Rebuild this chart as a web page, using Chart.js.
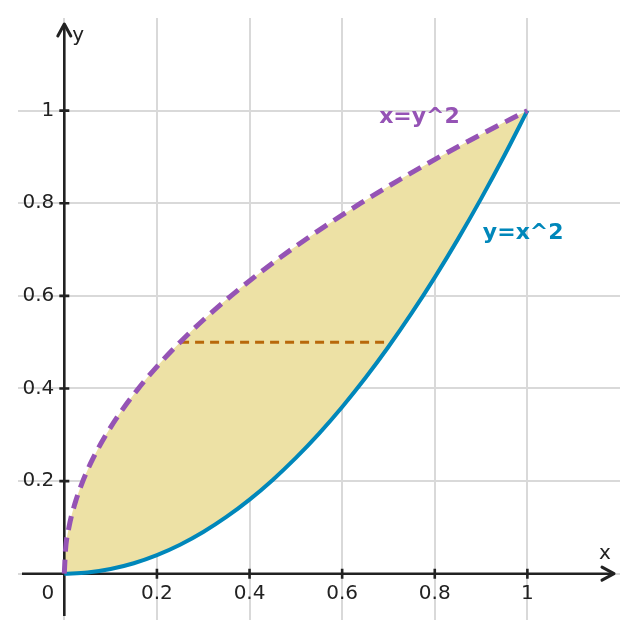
<!DOCTYPE html>
<html><head><meta charset="utf-8">
<script src="https://cdn.jsdelivr.net/npm/chart.js@4.4.1/dist/chart.umd.min.js"></script>
<style>html,body{margin:0;padding:0;background:#fff}#wrap{width:638px;height:638px;position:relative}</style>
</head><body><div id="wrap"><canvas id="c"></canvas></div>
<script>
// y = x^2 (solid blue)
const parabolaX = [0,0.05,0.1,0.15,0.2,0.25,0.3,0.35,0.4,0.45,0.5,0.55,0.6,0.65,0.7,0.75,0.8,0.85,0.9,0.95,1];
const parabolaY = [0,0.0025,0.01,0.0225,0.04,0.0625,0.09,0.1225,0.16,0.2025,0.25,0.3025,0.36,0.4225,0.49,0.5625,0.64,0.7225,0.81,0.9025,1];
// x = y^2 (dashed purple)
const rootCurveX = [0,0.0025,0.01,0.0225,0.04,0.0625,0.09,0.1225,0.16,0.2025,0.25,0.3025,0.36,0.4225,0.49,0.5625,0.64,0.7225,0.81,0.9025,1];
const rootCurveY = [0,0.05,0.1,0.15,0.2,0.25,0.3,0.35,0.4,0.45,0.5,0.55,0.6,0.65,0.7,0.75,0.8,0.85,0.9,0.95,1];
// horizontal slice at y = 0.5
const sliceX = [0.25,0.7071];
const sliceY = [0.5,0.5];
// ticks
const tickValues = [0.2,0.4,0.6,0.8,1];
const xTickLabels = ['0.2','0.4','0.6','0.8','1'];
const yTickLabels = ['0.2','0.4','0.6','0.8','1'];
const originLabel = '0';
const axisNames = ['x','y'];
const curveNames = ['x=y^2','y=x^2'];
const curveLabelX = [0.767,0.991];
const curveLabelY = [0.985,0.736];

const COL_PURPLE = '#9553b5', COL_BLUE = '#0087ba', COL_ORANGE = '#b8680a', COL_FILL = '#ede1a5', COL_AXIS = '#222222';
const FONT = "'DejaVu Sans', sans-serif";

const pts = (xs, ys) => xs.map((v, i) => ({x: v, y: ys[i]}));

const axesPlugin = {
  id: 'axes',
  beforeDatasetsDraw(chart) {
    const {ctx, scales: {x, y}} = chart;
    const x0 = x.getPixelForValue(0), y0 = y.getPixelForValue(0);
    const left = chart.chartArea.left + 4, right = chart.chartArea.right - 6;
    const bottom = chart.chartArea.bottom - 4, top = chart.chartArea.top + 6;
    ctx.save();
    ctx.strokeStyle = COL_AXIS; ctx.lineWidth = 2.6; ctx.lineCap = 'butt'; ctx.lineJoin = 'miter';
    ctx.beginPath();
    ctx.moveTo(left, y0); ctx.lineTo(right - 1, y0);
    ctx.moveTo(x0, bottom); ctx.lineTo(x0, top + 1);
    ctx.stroke();
    // arrowheads
    ctx.lineWidth = 3; ctx.lineCap = 'round'; ctx.lineJoin = 'round';
    ctx.beginPath();
    ctx.moveTo(right - 12, y0 - 6.5); ctx.lineTo(right, y0); ctx.lineTo(right - 12, y0 + 6.5);
    ctx.moveTo(x0 - 6.5, top + 12); ctx.lineTo(x0, top); ctx.lineTo(x0 + 6.5, top + 12);
    ctx.stroke();
    // tick marks
    ctx.lineWidth = 2.6; ctx.lineCap = 'butt';
    ctx.beginPath();
    tickValues.forEach(v => {
      const px = x.getPixelForValue(v), py = y.getPixelForValue(v);
      ctx.moveTo(px, y0 - 5); ctx.lineTo(px, y0 + 5);
      ctx.moveTo(x0 - 5, py); ctx.lineTo(x0 + 5, py);
    });
    ctx.stroke();
    // tick labels
    ctx.fillStyle = COL_AXIS;
    ctx.font = '20px ' + FONT;
    ctx.textBaseline = 'middle';
    ctx.textAlign = 'center';
    tickValues.forEach((v, i) => ctx.fillText(xTickLabels[i], x.getPixelForValue(v), y0 + 20));
    ctx.textAlign = 'right';
    tickValues.forEach((v, i) => ctx.fillText(yTickLabels[i], x0 - 10, y.getPixelForValue(v)));
    ctx.fillText(originLabel, x0 - 10, y0 + 20);
    // axis names
    ctx.font = '20px ' + FONT;
    ctx.textAlign = 'center';
    ctx.fillText(axisNames[0], right - 9, y0 - 20);
    ctx.textAlign = 'left';
    ctx.fillText(axisNames[1], x0 + 8, top + 12);
    ctx.restore();
  },
  afterDatasetsDraw(chart) {
    const {ctx, scales: {x, y}} = chart;
    ctx.save();
    ctx.font = 'bold 22px ' + FONT;
    ctx.textAlign = 'center'; ctx.textBaseline = 'middle';
    [COL_PURPLE, COL_BLUE].forEach((c, i) => {
      ctx.fillStyle = c;
      ctx.fillText(curveNames[i], x.getPixelForValue(curveLabelX[i]), y.getPixelForValue(curveLabelY[i]));
    });
    ctx.restore();
  }
};

const gridCfg = {color: '#d9d9d9', lineWidth: 2, drawTicks: false};
const tickSetter = axis => { axis.ticks = [0].concat(tickValues).map(v => ({value: v})); };

new Chart(document.getElementById('c'), {
  type: 'line',
  data: {
    datasets: [
      {label: curveNames[0], data: pts(rootCurveX, rootCurveY), borderColor: COL_PURPLE, borderWidth: 5,
       borderDash: [14, 8], backgroundColor: COL_FILL, fill: 1, pointRadius: 0, cubicInterpolationMode: 'monotone', order: 1},
      {label: curveNames[1], data: pts(parabolaX, parabolaY), borderColor: COL_BLUE, borderWidth: 4,
       fill: false, pointRadius: 0, cubicInterpolationMode: 'monotone', order: 2},
      {label: 'slice', data: pts(sliceX, sliceY), borderColor: COL_ORANGE, borderWidth: 3,
       borderDash: [9, 6], fill: false, pointRadius: 0, tension: 0, order: 3}
    ]
  },
  options: {
    responsive: true, maintainAspectRatio: false, animation: false,
    layout: {padding: 18},
    plugins: {legend: {display: false}, tooltip: {enabled: false}, filler: {drawTime: 'beforeDatasetsDraw'}},
    scales: {
      x: {type: 'linear', min: -0.1, max: 1.2, grid: gridCfg, border: {display: false},
          ticks: {display: false}, afterBuildTicks: tickSetter},
      y: {type: 'linear', min: -0.1, max: 1.2, grid: gridCfg, border: {display: false},
          ticks: {display: false}, afterBuildTicks: tickSetter}
    }
  },
  plugins: [axesPlugin]
});
</script>
</body></html>
